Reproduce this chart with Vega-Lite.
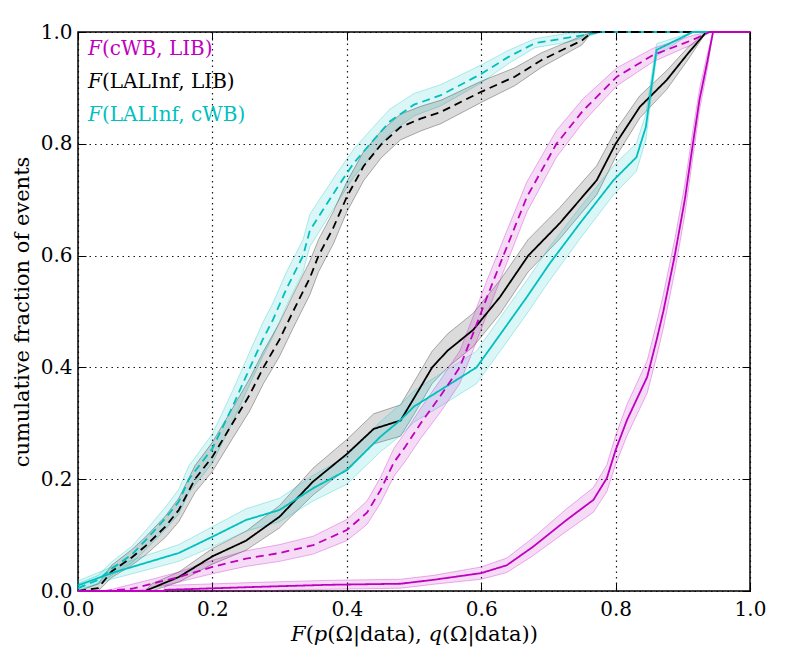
{
  "$schema": "https://vega.github.io/schema/vega-lite/v6.json",
  "width": 672,
  "height": 559,
  "autosize": {"type": "none"},
  "padding": {"left": 78, "top": 32, "right": 39, "bottom": 67},
  "background": "white",
  "datasets": {
    "curves": [
      {"s": "LALInf, cWB", "d": "dashed", "x": 0, "y": 0.005, "lo": 0, "hi": 0.013},
      {"s": "LALInf, cWB", "d": "dashed", "x": 0.03, "y": 0.02, "lo": 0.012, "hi": 0.028},
      {"s": "LALInf, cWB", "d": "dashed", "x": 0.05, "y": 0.04, "lo": 0.028, "hi": 0.052},
      {"s": "LALInf, cWB", "d": "dashed", "x": 0.08, "y": 0.065, "lo": 0.05, "hi": 0.08},
      {"s": "LALInf, cWB", "d": "dashed", "x": 0.1, "y": 0.09, "lo": 0.073, "hi": 0.107},
      {"s": "LALInf, cWB", "d": "dashed", "x": 0.13, "y": 0.13, "lo": 0.11, "hi": 0.15},
      {"s": "LALInf, cWB", "d": "dashed", "x": 0.15, "y": 0.16, "lo": 0.138, "hi": 0.182},
      {"s": "LALInf, cWB", "d": "dashed", "x": 0.165, "y": 0.2, "lo": 0.176, "hi": 0.224},
      {"s": "LALInf, cWB", "d": "dashed", "x": 0.2, "y": 0.255, "lo": 0.229, "hi": 0.281},
      {"s": "LALInf, cWB", "d": "dashed", "x": 0.23, "y": 0.33, "lo": 0.302, "hi": 0.358},
      {"s": "LALInf, cWB", "d": "dashed", "x": 0.256, "y": 0.4, "lo": 0.371, "hi": 0.429},
      {"s": "LALInf, cWB", "d": "dashed", "x": 0.275, "y": 0.45, "lo": 0.42, "hi": 0.48},
      {"s": "LALInf, cWB", "d": "dashed", "x": 0.29, "y": 0.485, "lo": 0.455, "hi": 0.515},
      {"s": "LALInf, cWB", "d": "dashed", "x": 0.31, "y": 0.54, "lo": 0.51, "hi": 0.57},
      {"s": "LALInf, cWB", "d": "dashed", "x": 0.335, "y": 0.6, "lo": 0.571, "hi": 0.629},
      {"s": "LALInf, cWB", "d": "dashed", "x": 0.345, "y": 0.645, "lo": 0.616, "hi": 0.674},
      {"s": "LALInf, cWB", "d": "dashed", "x": 0.385, "y": 0.72, "lo": 0.693, "hi": 0.747},
      {"s": "LALInf, cWB", "d": "dashed", "x": 0.41, "y": 0.765, "lo": 0.74, "hi": 0.79},
      {"s": "LALInf, cWB", "d": "dashed", "x": 0.435, "y": 0.8, "lo": 0.776, "hi": 0.824},
      {"s": "LALInf, cWB", "d": "dashed", "x": 0.464, "y": 0.84, "lo": 0.818, "hi": 0.862},
      {"s": "LALInf, cWB", "d": "dashed", "x": 0.5, "y": 0.87, "lo": 0.85, "hi": 0.89},
      {"s": "LALInf, cWB", "d": "dashed", "x": 0.54, "y": 0.887, "lo": 0.868, "hi": 0.906},
      {"s": "LALInf, cWB", "d": "dashed", "x": 0.6, "y": 0.925, "lo": 0.909, "hi": 0.941},
      {"s": "LALInf, cWB", "d": "dashed", "x": 0.64, "y": 0.955, "lo": 0.943, "hi": 0.967},
      {"s": "LALInf, cWB", "d": "dashed", "x": 0.68, "y": 0.98, "lo": 0.972, "hi": 0.988},
      {"s": "LALInf, cWB", "d": "dashed", "x": 0.73, "y": 0.99, "lo": 0.982, "hi": 0.998},
      {"s": "LALInf, cWB", "d": "dashed", "x": 0.78, "y": 1, "lo": 1, "hi": 1},
      {"s": "LALInf, cWB", "d": "dashed", "x": 1, "y": 1, "lo": 1, "hi": 1},

      {"s": "LALInf, LIB", "d": "dashed", "x": 0, "y": 0, "lo": 0, "hi": 0},
      {"s": "LALInf, LIB", "d": "dashed", "x": 0.03, "y": 0.005, "lo": 0, "hi": 0.013},
      {"s": "LALInf, LIB", "d": "dashed", "x": 0.05, "y": 0.035, "lo": 0.024, "hi": 0.046},
      {"s": "LALInf, LIB", "d": "dashed", "x": 0.08, "y": 0.06, "lo": 0.046, "hi": 0.074},
      {"s": "LALInf, LIB", "d": "dashed", "x": 0.1, "y": 0.08, "lo": 0.064, "hi": 0.096},
      {"s": "LALInf, LIB", "d": "dashed", "x": 0.13, "y": 0.115, "lo": 0.096, "hi": 0.134},
      {"s": "LALInf, LIB", "d": "dashed", "x": 0.15, "y": 0.145, "lo": 0.124, "hi": 0.166},
      {"s": "LALInf, LIB", "d": "dashed", "x": 0.174, "y": 0.2, "lo": 0.176, "hi": 0.224},
      {"s": "LALInf, LIB", "d": "dashed", "x": 0.2, "y": 0.24, "lo": 0.214, "hi": 0.266},
      {"s": "LALInf, LIB", "d": "dashed", "x": 0.23, "y": 0.3, "lo": 0.273, "hi": 0.327},
      {"s": "LALInf, LIB", "d": "dashed", "x": 0.255, "y": 0.35, "lo": 0.321, "hi": 0.379},
      {"s": "LALInf, LIB", "d": "dashed", "x": 0.276, "y": 0.4, "lo": 0.371, "hi": 0.429},
      {"s": "LALInf, LIB", "d": "dashed", "x": 0.3, "y": 0.45, "lo": 0.42, "hi": 0.48},
      {"s": "LALInf, LIB", "d": "dashed", "x": 0.32, "y": 0.5, "lo": 0.47, "hi": 0.53},
      {"s": "LALInf, LIB", "d": "dashed", "x": 0.345, "y": 0.56, "lo": 0.53, "hi": 0.59},
      {"s": "LALInf, LIB", "d": "dashed", "x": 0.358, "y": 0.6, "lo": 0.571, "hi": 0.629},
      {"s": "LALInf, LIB", "d": "dashed", "x": 0.38, "y": 0.65, "lo": 0.621, "hi": 0.679},
      {"s": "LALInf, LIB", "d": "dashed", "x": 0.4, "y": 0.705, "lo": 0.678, "hi": 0.732},
      {"s": "LALInf, LIB", "d": "dashed", "x": 0.425, "y": 0.76, "lo": 0.734, "hi": 0.786},
      {"s": "LALInf, LIB", "d": "dashed", "x": 0.452, "y": 0.8, "lo": 0.776, "hi": 0.824},
      {"s": "LALInf, LIB", "d": "dashed", "x": 0.48, "y": 0.83, "lo": 0.807, "hi": 0.853},
      {"s": "LALInf, LIB", "d": "dashed", "x": 0.51, "y": 0.845, "lo": 0.823, "hi": 0.867},
      {"s": "LALInf, LIB", "d": "dashed", "x": 0.54, "y": 0.857, "lo": 0.836, "hi": 0.878},
      {"s": "LALInf, LIB", "d": "dashed", "x": 0.6, "y": 0.893, "lo": 0.874, "hi": 0.912},
      {"s": "LALInf, LIB", "d": "dashed", "x": 0.65, "y": 0.92, "lo": 0.904, "hi": 0.936},
      {"s": "LALInf, LIB", "d": "dashed", "x": 0.69, "y": 0.95, "lo": 0.937, "hi": 0.963},
      {"s": "LALInf, LIB", "d": "dashed", "x": 0.75, "y": 0.985, "lo": 0.977, "hi": 0.993},
      {"s": "LALInf, LIB", "d": "dashed", "x": 0.765, "y": 1, "lo": 1, "hi": 1},
      {"s": "LALInf, LIB", "d": "dashed", "x": 1, "y": 1, "lo": 1, "hi": 1},

      {"s": "LALInf, LIB", "d": "solid", "x": 0, "y": 0, "lo": 0, "hi": 0},
      {"s": "LALInf, LIB", "d": "solid", "x": 0.1, "y": 0, "lo": 0, "hi": 0},
      {"s": "LALInf, LIB", "d": "solid", "x": 0.11, "y": 0.005, "lo": 0, "hi": 0.013},
      {"s": "LALInf, LIB", "d": "solid", "x": 0.15, "y": 0.025, "lo": 0.016, "hi": 0.034},
      {"s": "LALInf, LIB", "d": "solid", "x": 0.2, "y": 0.062, "lo": 0.048, "hi": 0.076},
      {"s": "LALInf, LIB", "d": "solid", "x": 0.25, "y": 0.09, "lo": 0.073, "hi": 0.107},
      {"s": "LALInf, LIB", "d": "solid", "x": 0.3, "y": 0.133, "lo": 0.113, "hi": 0.153},
      {"s": "LALInf, LIB", "d": "solid", "x": 0.35, "y": 0.196, "lo": 0.172, "hi": 0.22},
      {"s": "LALInf, LIB", "d": "solid", "x": 0.4, "y": 0.245, "lo": 0.219, "hi": 0.271},
      {"s": "LALInf, LIB", "d": "solid", "x": 0.44, "y": 0.29, "lo": 0.263, "hi": 0.317},
      {"s": "LALInf, LIB", "d": "solid", "x": 0.48, "y": 0.305, "lo": 0.277, "hi": 0.333},
      {"s": "LALInf, LIB", "d": "solid", "x": 0.5, "y": 0.345, "lo": 0.316, "hi": 0.374},
      {"s": "LALInf, LIB", "d": "solid", "x": 0.527, "y": 0.4, "lo": 0.371, "hi": 0.429},
      {"s": "LALInf, LIB", "d": "solid", "x": 0.55, "y": 0.43, "lo": 0.4, "hi": 0.46},
      {"s": "LALInf, LIB", "d": "solid", "x": 0.588, "y": 0.467, "lo": 0.437, "hi": 0.497},
      {"s": "LALInf, LIB", "d": "solid", "x": 0.628, "y": 0.526, "lo": 0.496, "hi": 0.556},
      {"s": "LALInf, LIB", "d": "solid", "x": 0.67, "y": 0.6, "lo": 0.571, "hi": 0.629},
      {"s": "LALInf, LIB", "d": "solid", "x": 0.717, "y": 0.658, "lo": 0.63, "hi": 0.686},
      {"s": "LALInf, LIB", "d": "solid", "x": 0.772, "y": 0.735, "lo": 0.709, "hi": 0.761},
      {"s": "LALInf, LIB", "d": "solid", "x": 0.8, "y": 0.8, "lo": 0.776, "hi": 0.824},
      {"s": "LALInf, LIB", "d": "solid", "x": 0.836, "y": 0.866, "lo": 0.846, "hi": 0.886},
      {"s": "LALInf, LIB", "d": "solid", "x": 0.876, "y": 0.914, "lo": 0.897, "hi": 0.931},
      {"s": "LALInf, LIB", "d": "solid", "x": 0.908, "y": 0.962, "lo": 0.951, "hi": 0.973},
      {"s": "LALInf, LIB", "d": "solid", "x": 0.935, "y": 1, "lo": 1, "hi": 1},
      {"s": "LALInf, LIB", "d": "solid", "x": 1, "y": 1, "lo": 1, "hi": 1},

      {"s": "LALInf, cWB", "d": "solid", "x": 0, "y": 0.01, "lo": 0.002, "hi": 0.018},
      {"s": "LALInf, cWB", "d": "solid", "x": 0.05, "y": 0.032, "lo": 0.021, "hi": 0.043},
      {"s": "LALInf, cWB", "d": "solid", "x": 0.1, "y": 0.05, "lo": 0.037, "hi": 0.063},
      {"s": "LALInf, cWB", "d": "solid", "x": 0.15, "y": 0.068, "lo": 0.053, "hi": 0.083},
      {"s": "LALInf, cWB", "d": "solid", "x": 0.2, "y": 0.097, "lo": 0.079, "hi": 0.115},
      {"s": "LALInf, cWB", "d": "solid", "x": 0.25, "y": 0.127, "lo": 0.107, "hi": 0.147},
      {"s": "LALInf, cWB", "d": "solid", "x": 0.3, "y": 0.145, "lo": 0.124, "hi": 0.166},
      {"s": "LALInf, cWB", "d": "solid", "x": 0.35, "y": 0.184, "lo": 0.161, "hi": 0.207},
      {"s": "LALInf, cWB", "d": "solid", "x": 0.4, "y": 0.216, "lo": 0.191, "hi": 0.241},
      {"s": "LALInf, cWB", "d": "solid", "x": 0.45, "y": 0.276, "lo": 0.249, "hi": 0.303},
      {"s": "LALInf, cWB", "d": "solid", "x": 0.48, "y": 0.306, "lo": 0.278, "hi": 0.334},
      {"s": "LALInf, cWB", "d": "solid", "x": 0.5, "y": 0.33, "lo": 0.302, "hi": 0.358},
      {"s": "LALInf, cWB", "d": "solid", "x": 0.54, "y": 0.36, "lo": 0.331, "hi": 0.389},
      {"s": "LALInf, cWB", "d": "solid", "x": 0.593, "y": 0.4, "lo": 0.371, "hi": 0.429},
      {"s": "LALInf, cWB", "d": "solid", "x": 0.633, "y": 0.467, "lo": 0.437, "hi": 0.497},
      {"s": "LALInf, cWB", "d": "solid", "x": 0.668, "y": 0.526, "lo": 0.496, "hi": 0.556},
      {"s": "LALInf, cWB", "d": "solid", "x": 0.702, "y": 0.586, "lo": 0.556, "hi": 0.616},
      {"s": "LALInf, cWB", "d": "solid", "x": 0.747, "y": 0.658, "lo": 0.63, "hi": 0.686},
      {"s": "LALInf, cWB", "d": "solid", "x": 0.797, "y": 0.735, "lo": 0.709, "hi": 0.761},
      {"s": "LALInf, cWB", "d": "solid", "x": 0.831, "y": 0.776, "lo": 0.751, "hi": 0.801},
      {"s": "LALInf, cWB", "d": "solid", "x": 0.845, "y": 0.83, "lo": 0.807, "hi": 0.853},
      {"s": "LALInf, cWB", "d": "solid", "x": 0.853, "y": 0.9, "lo": 0.882, "hi": 0.918},
      {"s": "LALInf, cWB", "d": "solid", "x": 0.861, "y": 0.968, "lo": 0.957, "hi": 0.979},
      {"s": "LALInf, cWB", "d": "solid", "x": 0.915, "y": 1, "lo": 1, "hi": 1},
      {"s": "LALInf, cWB", "d": "solid", "x": 1, "y": 1, "lo": 1, "hi": 1},

      {"s": "cWB, LIB", "d": "dashed", "x": 0, "y": 0, "lo": 0, "hi": 0},
      {"s": "cWB, LIB", "d": "dashed", "x": 0.04, "y": 0, "lo": 0, "hi": 0},
      {"s": "cWB, LIB", "d": "dashed", "x": 0.08, "y": 0.004, "lo": 0, "hi": 0.012},
      {"s": "cWB, LIB", "d": "dashed", "x": 0.11, "y": 0.013, "lo": 0.005, "hi": 0.021},
      {"s": "cWB, LIB", "d": "dashed", "x": 0.15, "y": 0.025, "lo": 0.016, "hi": 0.034},
      {"s": "cWB, LIB", "d": "dashed", "x": 0.2, "y": 0.043, "lo": 0.031, "hi": 0.055},
      {"s": "cWB, LIB", "d": "dashed", "x": 0.25, "y": 0.058, "lo": 0.044, "hi": 0.072},
      {"s": "cWB, LIB", "d": "dashed", "x": 0.3, "y": 0.068, "lo": 0.053, "hi": 0.083},
      {"s": "cWB, LIB", "d": "dashed", "x": 0.35, "y": 0.082, "lo": 0.066, "hi": 0.098},
      {"s": "cWB, LIB", "d": "dashed", "x": 0.4, "y": 0.109, "lo": 0.09, "hi": 0.128},
      {"s": "cWB, LIB", "d": "dashed", "x": 0.43, "y": 0.14, "lo": 0.119, "hi": 0.161},
      {"s": "cWB, LIB", "d": "dashed", "x": 0.45, "y": 0.18, "lo": 0.157, "hi": 0.203},
      {"s": "cWB, LIB", "d": "dashed", "x": 0.47, "y": 0.23, "lo": 0.205, "hi": 0.255},
      {"s": "cWB, LIB", "d": "dashed", "x": 0.487, "y": 0.258, "lo": 0.232, "hi": 0.284},
      {"s": "cWB, LIB", "d": "dashed", "x": 0.51, "y": 0.3, "lo": 0.273, "hi": 0.327},
      {"s": "cWB, LIB", "d": "dashed", "x": 0.54, "y": 0.35, "lo": 0.321, "hi": 0.379},
      {"s": "cWB, LIB", "d": "dashed", "x": 0.568, "y": 0.4, "lo": 0.371, "hi": 0.429},
      {"s": "cWB, LIB", "d": "dashed", "x": 0.59, "y": 0.467, "lo": 0.437, "hi": 0.497},
      {"s": "cWB, LIB", "d": "dashed", "x": 0.61, "y": 0.53, "lo": 0.5, "hi": 0.56},
      {"s": "cWB, LIB", "d": "dashed", "x": 0.633, "y": 0.6, "lo": 0.571, "hi": 0.629},
      {"s": "cWB, LIB", "d": "dashed", "x": 0.668, "y": 0.705, "lo": 0.678, "hi": 0.732},
      {"s": "cWB, LIB", "d": "dashed", "x": 0.712, "y": 0.8, "lo": 0.776, "hi": 0.824},
      {"s": "cWB, LIB", "d": "dashed", "x": 0.752, "y": 0.86, "lo": 0.839, "hi": 0.881},
      {"s": "cWB, LIB", "d": "dashed", "x": 0.802, "y": 0.92, "lo": 0.904, "hi": 0.936},
      {"s": "cWB, LIB", "d": "dashed", "x": 0.856, "y": 0.959, "lo": 0.947, "hi": 0.971},
      {"s": "cWB, LIB", "d": "dashed", "x": 0.915, "y": 0.986, "lo": 0.978, "hi": 0.994},
      {"s": "cWB, LIB", "d": "dashed", "x": 0.94, "y": 1, "lo": 1, "hi": 1},
      {"s": "cWB, LIB", "d": "dashed", "x": 1, "y": 1, "lo": 1, "hi": 1},

      {"s": "cWB, LIB", "d": "solid", "x": 0, "y": 0, "lo": 0, "hi": 0},
      {"s": "cWB, LIB", "d": "solid", "x": 0.127, "y": 0, "lo": 0, "hi": 0},
      {"s": "cWB, LIB", "d": "solid", "x": 0.13, "y": 0.002, "lo": 0, "hi": 0.01},
      {"s": "cWB, LIB", "d": "solid", "x": 0.256, "y": 0.007, "lo": 0, "hi": 0.015},
      {"s": "cWB, LIB", "d": "solid", "x": 0.37, "y": 0.011, "lo": 0.003, "hi": 0.019},
      {"s": "cWB, LIB", "d": "solid", "x": 0.48, "y": 0.013, "lo": 0.005, "hi": 0.021},
      {"s": "cWB, LIB", "d": "solid", "x": 0.529, "y": 0.02, "lo": 0.012, "hi": 0.028},
      {"s": "cWB, LIB", "d": "solid", "x": 0.6, "y": 0.032, "lo": 0.021, "hi": 0.043},
      {"s": "cWB, LIB", "d": "solid", "x": 0.638, "y": 0.046, "lo": 0.033, "hi": 0.059},
      {"s": "cWB, LIB", "d": "solid", "x": 0.677, "y": 0.079, "lo": 0.063, "hi": 0.095},
      {"s": "cWB, LIB", "d": "solid", "x": 0.727, "y": 0.127, "lo": 0.107, "hi": 0.147},
      {"s": "cWB, LIB", "d": "solid", "x": 0.767, "y": 0.163, "lo": 0.141, "hi": 0.185},
      {"s": "cWB, LIB", "d": "solid", "x": 0.787, "y": 0.202, "lo": 0.178, "hi": 0.226},
      {"s": "cWB, LIB", "d": "solid", "x": 0.8, "y": 0.252, "lo": 0.226, "hi": 0.278},
      {"s": "cWB, LIB", "d": "solid", "x": 0.817, "y": 0.306, "lo": 0.278, "hi": 0.334},
      {"s": "cWB, LIB", "d": "solid", "x": 0.847, "y": 0.383, "lo": 0.354, "hi": 0.412},
      {"s": "cWB, LIB", "d": "solid", "x": 0.861, "y": 0.449, "lo": 0.419, "hi": 0.479},
      {"s": "cWB, LIB", "d": "solid", "x": 0.871, "y": 0.5, "lo": 0.47, "hi": 0.53},
      {"s": "cWB, LIB", "d": "solid", "x": 0.888, "y": 0.6, "lo": 0.571, "hi": 0.629},
      {"s": "cWB, LIB", "d": "solid", "x": 0.903, "y": 0.7, "lo": 0.673, "hi": 0.727},
      {"s": "cWB, LIB", "d": "solid", "x": 0.915, "y": 0.8, "lo": 0.776, "hi": 0.824},
      {"s": "cWB, LIB", "d": "solid", "x": 0.925, "y": 0.88, "lo": 0.861, "hi": 0.899},
      {"s": "cWB, LIB", "d": "solid", "x": 0.936, "y": 0.944, "lo": 0.93, "hi": 0.958},
      {"s": "cWB, LIB", "d": "solid", "x": 0.945, "y": 1, "lo": 1, "hi": 1},
      {"s": "cWB, LIB", "d": "solid", "x": 1, "y": 1, "lo": 1, "hi": 1}
    ]
  },
  "data": {"name": "curves"},
  "resolve": {"axis": {"x": "independent", "y": "independent"}},
  "layer": [
    {
      "mark": {"type": "area", "fillOpacity": 0.14, "strokeOpacity": 0.3, "strokeWidth": 1},
      "encoding": {
        "x": {
          "field": "x", "type": "quantitative",
          "scale": {"domain": [0, 1], "nice": false},
          "axis": {"orient": "top", "labels": false, "grid": false, "title": null, "values": [0, 0.2, 0.4, 0.6, 0.8, 1]}
        },
        "y": {
          "field": "lo", "type": "quantitative",
          "scale": {"domain": [0, 1], "nice": false},
          "axis": {"orient": "right", "labels": false, "grid": false, "title": null, "values": [0, 0.2, 0.4, 0.6, 0.8, 1]}
        },
        "y2": {"field": "hi"},
        "color": {
          "field": "s", "type": "nominal", "legend": null,
          "scale": {"domain": ["cWB, LIB", "LALInf, LIB", "LALInf, cWB"], "range": ["#bf00bf", "#000000", "#00bfbf"]}
        },
        "stroke": {
          "field": "s", "type": "nominal", "legend": null,
          "scale": {"domain": ["cWB, LIB", "LALInf, LIB", "LALInf, cWB"], "range": ["#bf00bf", "#000000", "#00bfbf"]}
        },
        "detail": {"field": "d"}
      }
    },
    {
      "mark": {"type": "line", "strokeWidth": 1.8},
      "encoding": {
        "x": {
          "field": "x", "type": "quantitative",
          "axis": {"orient": "bottom", "grid": true, "labelPadding": 16, "title": "𝐹(𝑝(Ω|data), 𝑞(Ω|data))", "values": [0, 0.2, 0.4, 0.6, 0.8, 1], "format": ".1f"}
        },
        "y": {
          "field": "y", "type": "quantitative",
          "axis": {"orient": "left", "grid": true, "title": "cumulative fraction of events", "values": [0, 0.2, 0.4, 0.6, 0.8, 1], "format": ".1f"}
        },
        "color": {"field": "s", "type": "nominal", "legend": null},
        "strokeDash": {
          "field": "d", "type": "nominal", "legend": null,
          "scale": {"domain": ["solid", "dashed"], "range": [[1, 0], [8, 5]]}
        }
      }
    },
    {
      "data": {"values": [{}]},
      "mark": {"type": "text", "text": "𝐹(cWB, LIB)", "align": "left", "baseline": "alphabetic", "font": "DejaVu Serif", "fontSize": 20, "color": "#bf00bf"},
      "encoding": {"x": {"datum": 0.015, "type": "quantitative", "axis": null}, "y": {"datum": 0.959, "type": "quantitative", "axis": null}}
    },
    {
      "data": {"values": [{}]},
      "mark": {"type": "text", "text": "𝐹(LALInf, LIB)", "align": "left", "baseline": "alphabetic", "font": "DejaVu Serif", "fontSize": 20, "color": "#000000"},
      "encoding": {"x": {"datum": 0.015, "type": "quantitative", "axis": null}, "y": {"datum": 0.9, "type": "quantitative", "axis": null}}
    },
    {
      "data": {"values": [{}]},
      "mark": {"type": "text", "text": "𝐹(LALInf, cWB)", "align": "left", "baseline": "alphabetic", "font": "DejaVu Serif", "fontSize": 20, "color": "#00bfbf"},
      "encoding": {"x": {"datum": 0.015, "type": "quantitative", "axis": null}, "y": {"datum": 0.84, "type": "quantitative", "axis": null}}
    }
  ],
  "config": {
    "view": {"stroke": "black", "strokeWidth": 1.5},
    "axis": {
      "domain": false,
      "labelFont": "DejaVu Serif",
      "labelFontSize": 20,
      "labelColor": "black",
      "labelPadding": 14,
      "labelFlush": false,
      "titleFont": "DejaVu Serif",
      "titleFontSize": 21,
      "titleFontWeight": "normal",
      "titleColor": "black",
      "tickColor": "black",
      "tickSize": -8,
      "tickWidth": 1,
      "gridColor": "black",
      "gridDash": [1.5, 4],
      "gridOpacity": 0.9,
      "gridWidth": 1.2
    },
    "axisY": {"titlePadding": 8},
    "axisX": {"titlePadding": 4}
  }
}
